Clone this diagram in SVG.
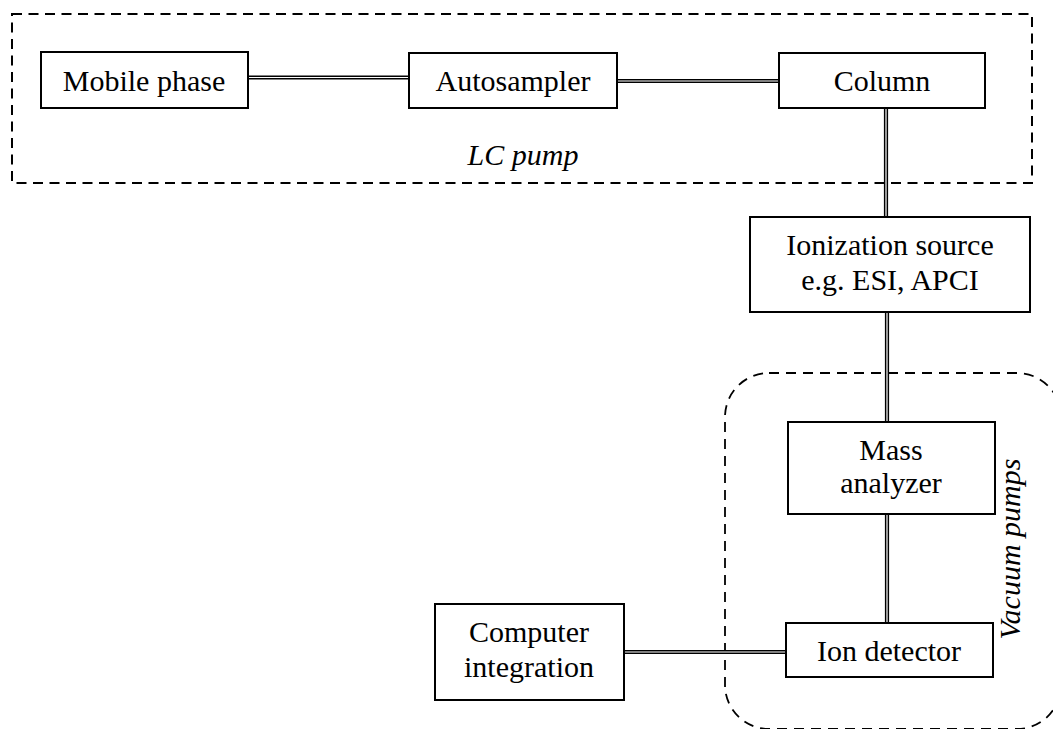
<svg xmlns="http://www.w3.org/2000/svg" width="1053" height="729" viewBox="0 0 1053 729">
<style>
.box{fill:#fff;stroke:#000;stroke-width:2}
.t{font-family:"Liberation Serif","Times New Roman",serif;font-size:30px;fill:#000;text-anchor:middle}
.it{font-style:italic}
.dash{fill:none;stroke:#000;stroke-width:2;stroke-dasharray:10 6.5}
.dash2{fill:none;stroke:#000;stroke-width:1.8;stroke-dasharray:10 7}
.outer{fill:none;stroke:#000;stroke-width:4.2}
.inner{fill:none;stroke:#fff;stroke-width:1.2}
</style>
<g id="lc-pump">
<rect class="dash" x="12" y="14" width="1020" height="169"/>
<text class="t it" x="523" y="165">LC pump</text>
</g>
<g id="vacuum-pumps">
<rect class="dash2" x="725" y="373" width="336" height="356" rx="44" ry="44"/>
<text class="t it" transform="translate(1020,549) rotate(-90)">Vacuum pumps</text>
</g>
<g id="connectors">
<path class="outer" d="M248,77.5H409M617,81H779M886,108V217M887,312V422M887,514V623M624,652H786"/>
<path class="inner" d="M248,77.5H409M617,81H779M886,108V217M887,312V422M887,514V623M624,652H786"/>
</g>
<g id="mobile-phase">
<rect class="box" x="41" y="52" width="207" height="56"/>
<text class="t" x="144" y="91">Mobile phase</text>
</g>
<g id="autosampler">
<rect class="box" x="409" y="53" width="208" height="55"/>
<text class="t" x="513" y="91">Autosampler</text>
</g>
<g id="column">
<rect class="box" x="779" y="53" width="206" height="55"/>
<text class="t" x="882" y="91">Column</text>
</g>
<g id="ionization-source">
<rect class="box" x="750" y="217" width="280" height="95"/>
<text class="t" x="890" y="255">Ionization source</text>
<text class="t" x="890" y="290">e.g. ESI, APCI</text>
</g>
<g id="mass-analyzer">
<rect class="box" x="788" y="422" width="207" height="92"/>
<text class="t" x="891" y="460">Mass</text>
<text class="t" x="891" y="493">analyzer</text>
</g>
<g id="ion-detector">
<rect class="box" x="786" y="623" width="207" height="54"/>
<text class="t" x="889" y="661">Ion detector</text>
</g>
<g id="computer-integration">
<rect class="box" x="435" y="604" width="189" height="96"/>
<text class="t" x="529" y="642">Computer</text>
<text class="t" x="529" y="677">integration</text>
</g>
</svg>
